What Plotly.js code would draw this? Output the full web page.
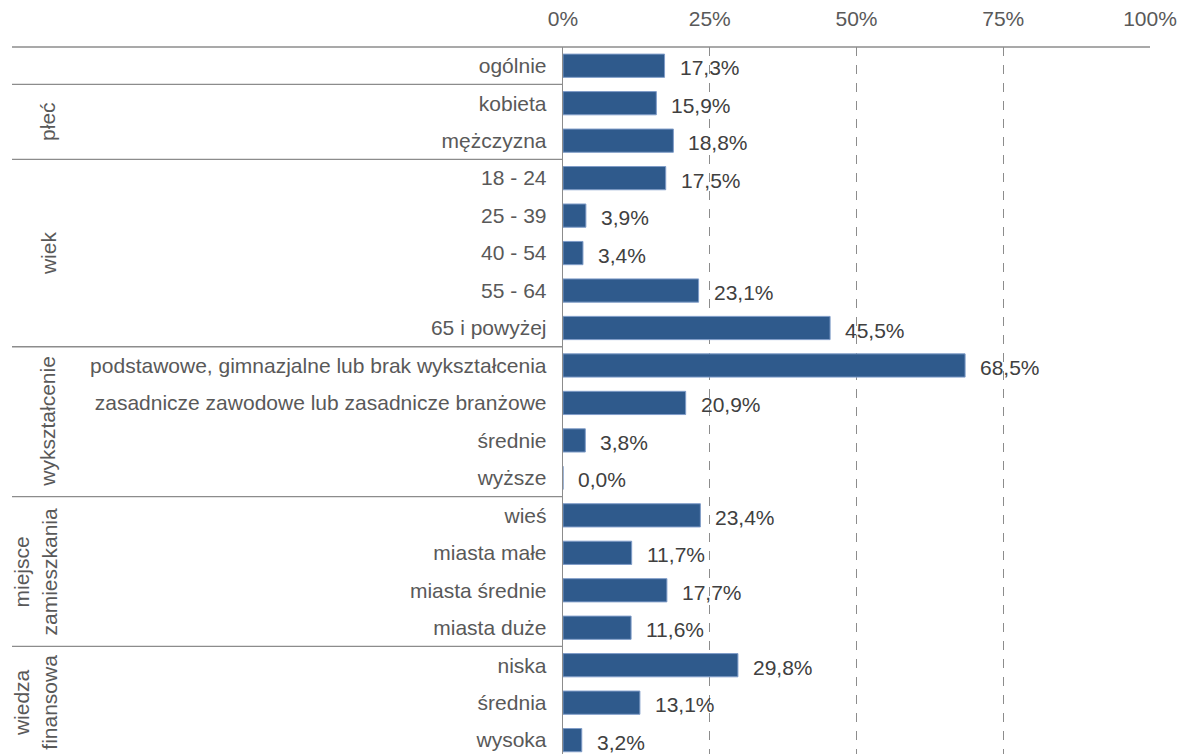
<!DOCTYPE html>
<html>
<head>
<meta charset="utf-8">
<script src="https://cdn.plot.ly/plotly-3.0.1.min.js"></script>
<style>html,body{margin:0;padding:0;background:#fff;}#chart{width:1180px;height:754px;}</style>
</head>
<body>
<div id="chart"></div>
<script>
// ---- data ----
const categories = ["ogólnie","kobieta","mężczyzna","18 - 24","25 - 39","40 - 54","55 - 64","65 i powyżej",
  "podstawowe, gimnazjalne lub brak wykształcenia","zasadnicze zawodowe lub zasadnicze branżowe","średnie","wyższe",
  "wieś","miasta małe","miasta średnie","miasta duże","niska","średnia","wysoka"];
const values = [17.3,15.9,18.8,17.5,3.9,3.4,23.1,45.5,68.5,20.9,3.8,0.0,23.4,11.7,17.7,11.6,29.8,13.1,3.2];
const groupNames = ["","płeć","wiek","wykształcenie","miejsce<br>zamieszkania","wiedza<br>finansowa"];
const groupStarts = [0,1,3,8,12,16];
const groupEnds   = [0,2,7,11,15,18];
const xTicks = [0,25,50,75,100];
const xTickText = ["0%","25%","50%","75%","100%"];

// ---- layout helpers ----
const W = 1180, H = 754;
const mL = 563, mR = 30, mT = 47, mB = 0;
const yTop = -0.5, yBottom = 18.37;
const plotW = W - mL - mR;
const pxToPaperX = px => (px - mL) / plotW;
const yToPaper = v => (yBottom - v) / (yBottom - yTop);
const FONT = "Liberation Sans, Arial, sans-serif";
const FS = 21;
const lineCol = "#8c8c8c";

const shapes = [];
groupStarts.forEach(s => {
  const yp = yToPaper(s - 0.5);
  shapes.push({type:"line", xref:"paper", yref:"paper", x0:pxToPaperX(12), x1:(s===0?1:0), y0:yp, y1:yp,
    line:{color:lineCol, width:1.3}});
});

const annotations = [];
values.forEach((v,i) => {
  annotations.push({x:v, y:i, xref:"x", yref:"y", text:v.toFixed(1).replace(".",",")+"%",
    showarrow:false, xanchor:"left", yanchor:"middle", xshift:13, yshift:-2,
    font:{family:FONT, size:FS, color:"#404040"}});
});
groupNames.forEach((g,k) => {
  if(!g) return;
  annotations.push({x:pxToPaperX(g.indexOf("<br>")>=0?35:48), y:(groupStarts[k]+groupEnds[k])/2, xref:"paper", yref:"y",
    text:g, showarrow:false, textangle:-90, xanchor:"center", yanchor:"middle",
    font:{family:FONT, size:FS, color:"#595959"}});
});

const trace = {
  type:"bar", orientation:"h", x:values, y:categories,
  marker:{color:"#2f5a8c", line:{color:"#7f9cc8", width:1}},
  width:0.62, hoverinfo:"skip"
};

const layout = {
  width:W, height:H,
  margin:{l:mL, r:mR, t:mT, b:mB, pad:0},
  paper_bgcolor:"#fff", plot_bgcolor:"#fff",
  showlegend:false,
  font:{family:FONT, size:FS, color:"#595959"},
  xaxis:{side:"top", range:[0,100], tickvals:xTicks, ticktext:xTickText,
    showgrid:true, gridcolor:"#8c8c8c", griddash:"dash", gridwidth:1.2,
    zeroline:false, showline:false, ticks:"outside", ticklen:12, tickcolor:"rgba(0,0,0,0)",
    tickfont:{family:FONT, size:FS, color:"#595959"}, fixedrange:true},
  yaxis:{type:"category", categoryorder:"array", categoryarray:categories,
    range:[yBottom, yTop], showgrid:false, zeroline:false,
    showline:true, linecolor:lineCol, linewidth:1.3,
    ticks:"outside", ticklen:11, tickcolor:"rgba(0,0,0,0)",
    tickfont:{family:FONT, size:FS, color:"#595959"}, fixedrange:true},
  shapes:shapes,
  annotations:annotations
};

Plotly.newPlot("chart", [trace], layout, {displayModeBar:false, staticPlot:true});
</script>
</body>
</html>
